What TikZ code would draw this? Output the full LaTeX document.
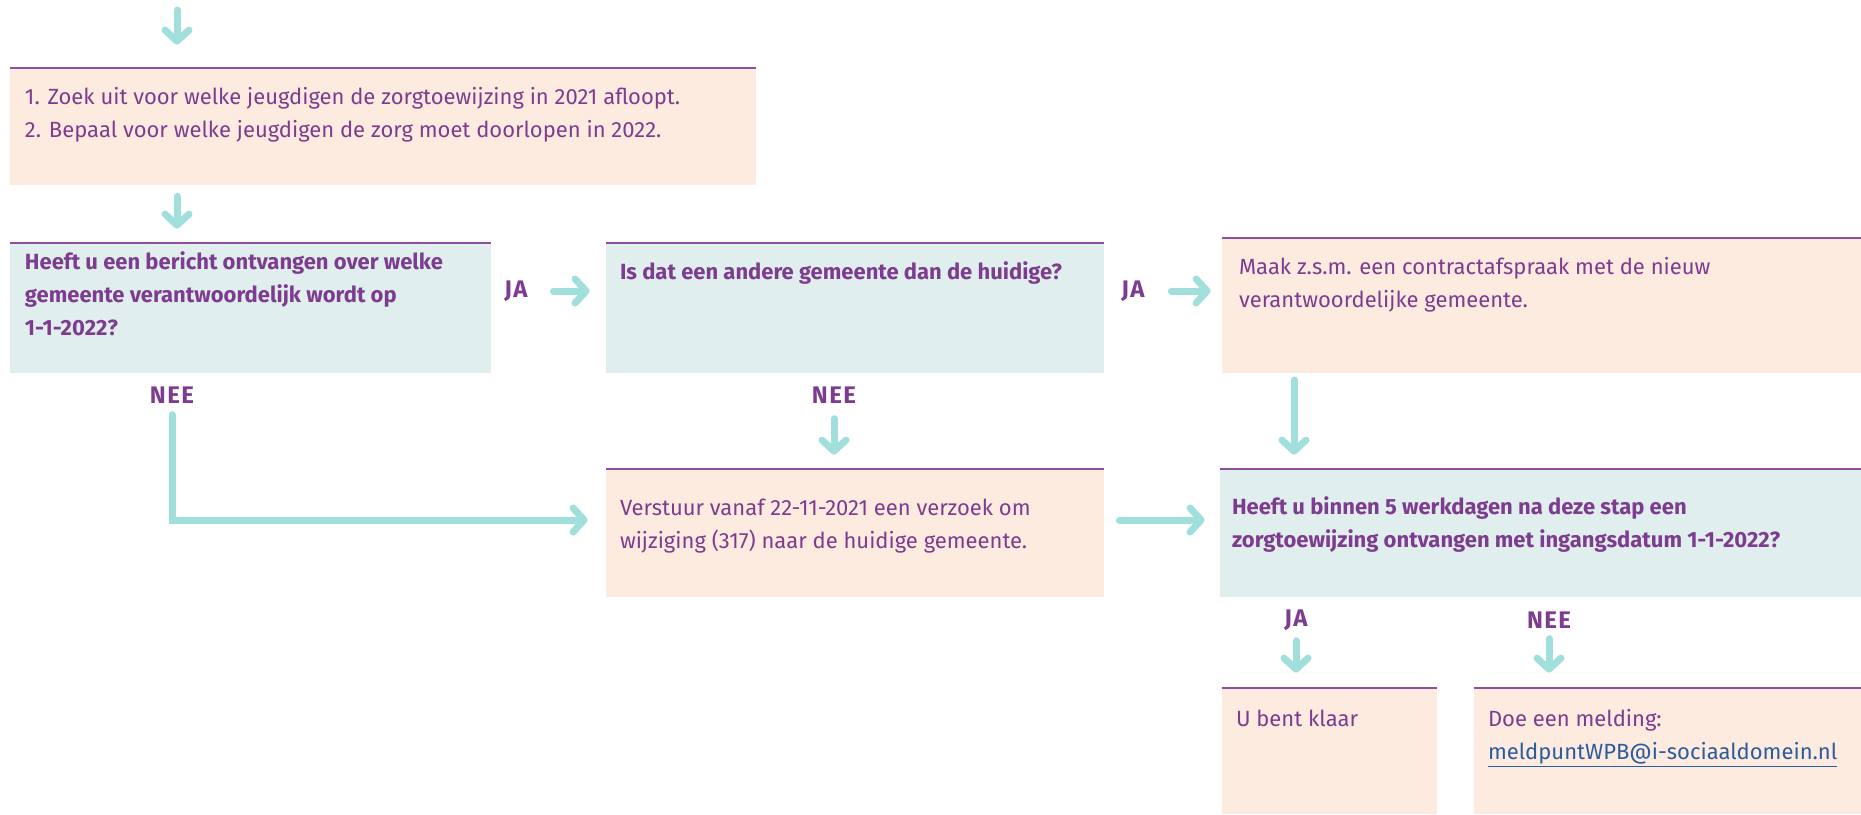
\documentclass[tikz,border=0pt]{standalone}
\usepackage{fontspec}
\setmainfont{Fira Sans}
\newfontfamily\keuzefont{Fira Sans}[LetterSpace=6]
\usetikzlibrary{arrows.meta,fit}

\definecolor{paars}{HTML}{7D3C8F}
\definecolor{rand}{HTML}{8E4F9E}
\definecolor{mint}{HTML}{A0DFDB}
\definecolor{perzik}{HTML}{FDEBDF}
\definecolor{ijs}{HTML}{E0EFEE}
\definecolor{link}{HTML}{2B5C9E}

\begin{document}
\begin{tikzpicture}[x=0.5pt, y=-0.5pt,
  stap/.style = {inner sep=0pt, fill=perzik},
  vraag/.style = {inner sep=0pt, fill=ijs},
  tekst/.style = {anchor=north west, inner sep=0pt, align=left, text=paars,
    font=\fontsize{11}{16.5}\selectfont},
  vet/.style = {tekst, font=\fontsize{11}{16.5}\selectfont\bfseries},
  keuze/.style = {inner sep=0pt, text=paars, font=\keuzefont\fontsize{12}{14}\selectfont\bfseries},
  pijl/.style = {draw=mint, line width=3.5pt, line cap=round,
    -{Straight Barb[length=5.5pt, width=12pt, round]}}]
  \useasboundingbox (0,0) rectangle (1861,814);

  % vakken
  \node[stap, fit={(10,68) (756,185)}] (b1) {};
  \node[vraag, fit={(10,243) (491,373)}] (q1) {};
  \node[vraag, fit={(606,243) (1104,373)}] (q2) {};
  \node[stap, fit={(1222,238) (1861,373)}] (b4) {};
  \node[stap, fit={(606,469) (1104,597)}] (b5) {};
  \node[vraag, fit={(1220,469) (1861,597)}] (q3) {};
  \node[stap, fit={(1222,688) (1437,814)}] (b7) {};
  \node[stap, fit={(1474,688) (1861,814)}] (b8) {};
  \foreach \n in {b1,q1,q2,b4,b5,q3,b7,b8}
    \draw[rand, line width=1pt] (\n.north west) -- (\n.north east);

  % teksten
  \node[tekst] (b1t) at ([shift={(7.5pt,-6.5pt)}]b1.north west)
    {\strut 1. Zoek uit voor welke jeugdigen de zorgtoewijzing in 2021 afloopt.\\
     2. Bepaal voor welke jeugdigen de zorg moet doorlopen in 2022.};
  \node[vet] (q1t) at ([shift={(7.5pt,-1.5pt)}]q1.north west)
    {\strut Heeft u een bericht ontvangen over welke\\
     gemeente verantwoordelijk wordt op\\ 1-1-2022?};
  \node[vet] (q2t) at ([shift={(7pt,-6.5pt)}]q2.north west)
    {\strut Is dat een andere gemeente dan de huidige?};
  \node[tekst] (b4t) at ([shift={(8.5pt,-6.5pt)}]b4.north west)
    {\strut Maak z.s.m. een contractafspraak met de nieuw\\
     verantwoordelijke gemeente.};
  \node[tekst] (b5t) at ([shift={(7pt,-11.5pt)}]b5.north west)
    {\strut Verstuur vanaf 22-11-2021 een verzoek om\\
     wijziging (317) naar de huidige gemeente.};
  \node[vet] (q3t) at ([shift={(6pt,-11pt)}]q3.north west)
    {\strut Heeft u binnen 5 werkdagen na deze stap een\\
     zorgtoewijzing ontvangen met ingangsdatum 1-1-2022?};
  \node[tekst] (b7t) at ([shift={(7pt,-7.5pt)}]b7.north west) {\strut U bent klaar};
  \node[tekst] (b8t) at ([shift={(7pt,-7.5pt)}]b8.north west)
    {\strut Doe een melding:\\
     \textcolor{link}{\underline{meldpuntWPB@i-sociaaldomein.nl}}};

  % keuzes
  \node[keuze] (ja1) at (516,291) {JA};
  \node[keuze] (ja2) at (1133,291) {JA};
  \node[keuze] (nee1) at (172,395) {NEE};
  \node[keuze] (nee2) at (834,395) {NEE};
  \node[keuze] (ja3) at (1296,620) {JA};
  \node[keuze] (nee3) at (1549,620) {NEE};

  % pijlen
  \coordinate (begin) at (177,10);
  \coordinate (kol) at (1294,373);
  \draw[pijl, shorten >=11.5pt] (begin) -- (b1.north -| begin);
  \draw[pijl, shorten <=5.5pt, shorten >=7pt] (b1.south -| begin) -- (q1.north -| begin);
  \draw[pijl, shorten <=31pt, shorten >=8pt] (q1.east |- ja1) -- (q2.west |- ja1);
  \draw[pijl, shorten <=33.5pt, shorten >=5.5pt] (q2.east |- ja2) -- (b4.west |- ja2);
  \draw[pijl, shorten >=9pt] (nee1.south) ++(0,11) |- ([yshift=6.5pt]b5.west);
  \draw[pijl, shorten >=7pt] (nee2.south) ++(0,15) -- (b5.north -| nee2);
  \draw[pijl, shorten <=7.5pt, shorten >=7.5pt] ([yshift=6.5pt]b5.east) -- ([yshift=6.5pt]q3.west);
  \draw[pijl, shorten <=3.5pt, shorten >=7pt] (kol) -- (kol |- q3.north);
  \draw[pijl, shorten >=7.5pt] (ja3.south) ++(0,10) -- (b7.north -| ja3);
  \draw[pijl, shorten >=7.5pt] (nee3.south) ++(0,10) -- (b8.north -| nee3);
\end{tikzpicture}
\end{document}
